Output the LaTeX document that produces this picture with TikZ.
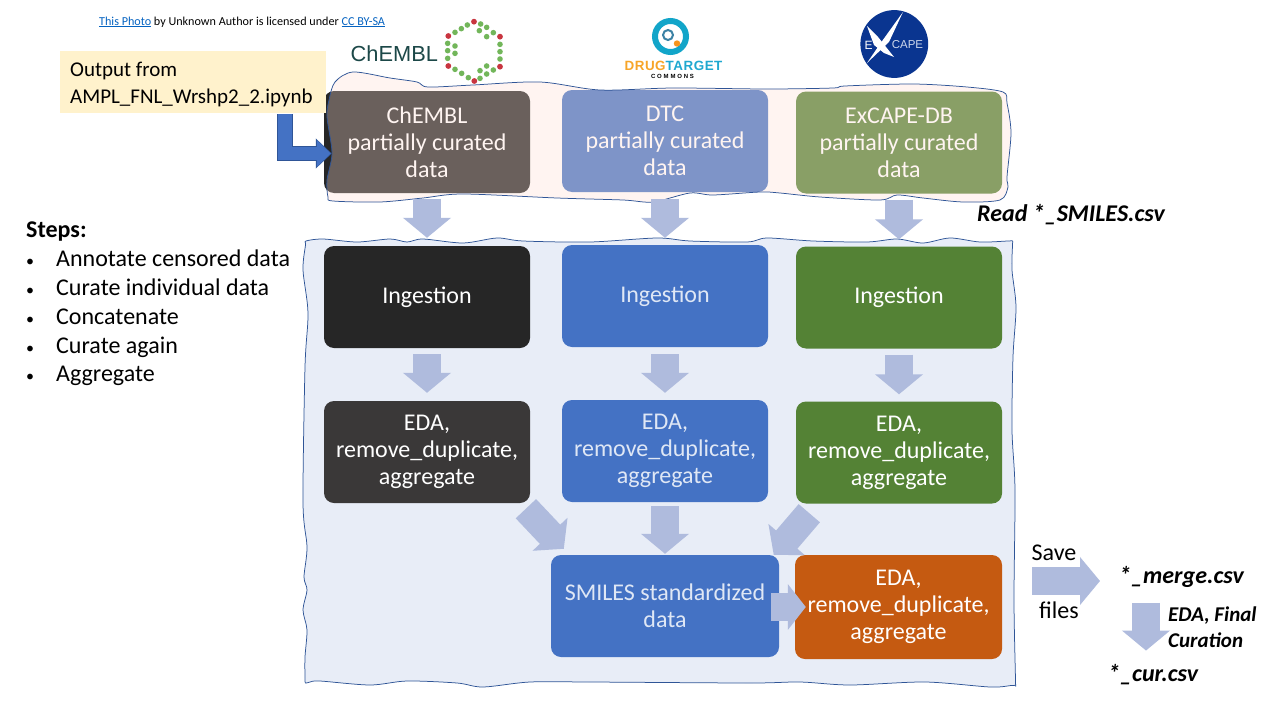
\documentclass[tikz,border=0pt]{standalone}
\usepackage{fontspec}
\setmainfont{Carlito}
\newfontfamily\logofont{Liberation Sans}
\newfontfamily\dtcfont[LetterSpace=4]{Liberation Sans}
\newfontfamily\dtcsmall[LetterSpace=30]{Liberation Sans}
\usetikzlibrary{arrows.meta}
\definecolor{arrowfill}{HTML}{AFBBDD}
\definecolor{blueA}{HTML}{4472C4}
\definecolor{blueB}{HTML}{2F5597}
\definecolor{lightregion}{HTML}{E8EDF7}
\definecolor{peach}{HTML}{FFDFD3}
\definecolor{softtext}{HTML}{DFE7F5}
\definecolor{linkblue}{HTML}{0563C1}
\definecolor{chemblred}{HTML}{C8353F}
\definecolor{chemblgreen}{HTML}{72B65A}
\definecolor{darkbox}{HTML}{262626}
\definecolor{darkboxB}{HTML}{3A3838}
\definecolor{greenbox}{HTML}{548235}
\definecolor{orangebox}{HTML}{C55A11}
\definecolor{notefill}{HTML}{FFF2CC}
\definecolor{chembltext}{HTML}{1C4848}
\definecolor{dtcring}{HTML}{12A5C9}
\definecolor{dtcinner}{HTML}{3C82A5}
\definecolor{dtcorange}{HTML}{F7941D}
\definecolor{dtctext}{HTML}{1FA8D0}
\definecolor{dtcdrug}{HTML}{F7A528}
\definecolor{exblue}{HTML}{0A3590}
\definecolor{exsoft}{HTML}{CDD7EB}
\newcommand{\stepdot}{\makebox[30pt][l]{\fontsize{16}{16}\selectfont •}}
\def\lowerpts{(306,241)(323,239)(357,242)(390,239)(407,242)(423,239)(463,243)(497,238)(523,241)(590,242)(657,238)(690,241)(747,242)(767,238)(813,241)(867,242)(897,239)(923,243)(950,238)(980,242)(1008,241)(1012.5,241)(1012.5,245)(1012,270)(1016,307)(1013,357)(1012,430)(1015,490)(1014,600)(1015.5,680)(1015.5,685)(1011,685.5)(990,687)(925,682)(850,685)(800,682)(750,683)(590,682)(530,682)(483,687)(457,683)(407,681)(370,685)(320,681)(310,682)(305.5,683)(305,678)(305,657)(307,630)(303,610)(307,590)(304,577)(307,547)(303,503)(305,367)(308,313)(303,270)(305.5,245)}
\def\upperpts{(329,100)(335,82)(353,72)(390,78)(417,82)(428,87)(473,85)(540,82)(600,90)(673,88)(767,89)(833,88)(845,86)(913,84)(967,87)(1003,92)(1007,103)(1011,133)(1007,177)(1008,187)(1000,200)(963,202)(923,198)(897,195)(880,200)(820,197)(780,193)(760,192)(713,195)(690,193)(653,202)(623,200)(557,198)(463,194)(423,198)(380,202)(333,201)(328,197)(327,180)(332,153)(327,117)}
\tikzset{
  box/.style={rounded corners=10pt,minimum width=206pt,minimum height=102pt,inner sep=0pt,
    align=center,text=white,font=\fontsize{24}{27}\selectfont},
  softbox/.style={box,text=softtext},
  blockarrow/.style={draw=arrowfill,line width=28pt,
    -{Triangle[width=47pt,length=20pt,fill=arrowfill]}},
  wobble/.style={draw=blueB,line width=0.75pt},
  plain/.style={inner sep=0pt,font=\fontsize{24}{27}\selectfont,align=left},
  notetext/.style={inner sep=0pt,font=\fontsize{21}{27}\selectfont,align=left},
  bolditalic/.style={inner sep=0pt,font=\fontsize{24}{27}\selectfont\bfseries\itshape,align=left},
  reddot/.style={fill=chemblred},
  greendot/.style={fill=chemblgreen},
}
\begin{document}
\begin{tikzpicture}[x=1pt,y=-1pt]
\useasboundingbox (0,0) rectangle (1280,720);
\fill[white] (0,0) rectangle (1280,720);
% lower region
\fill[lightregion] plot[smooth cycle,tension=0.5] coordinates {\lowerpts};
\draw[wobble] plot[smooth cycle,tension=0.5] coordinates {\lowerpts};
% top row boxes (under the translucent sheet)
\node[box,fill=darkbox] (cpart) at (427,142) {ChEMBL\\partially curated\\data};
\node[box,fill=blueA] (dpart) at (665,141) {DTC\\partially curated\\data};
\node[box,fill=greenbox] (epart) at (899,142.5) {ExCAPE-DB\\partially curated\\data};
\fill[peach,fill opacity=0.313] plot[smooth cycle,tension=0.5] coordinates {\upperpts};
\draw[wobble] plot[smooth cycle,tension=0.5] coordinates {\upperpts};
% process boxes
\node[box,fill=darkbox] (cing) at (427,297) {Ingestion};
\node[softbox,fill=blueA] (ding) at (665,296) {Ingestion};
\node[box,fill=greenbox] (eing) at (899,297.5) {Ingestion};
\node[box,fill=darkboxB] (ceda) at (427,452) {EDA,\\remove\_duplicate,\\aggregate};
\node[softbox,fill=blueA] (deda) at (665,451) {EDA,\\remove\_duplicate,\\aggregate};
\node[box,fill=greenbox] (eeda) at (899,452.5) {EDA,\\remove\_duplicate,\\aggregate};
\node[softbox,fill=blueA,minimum width=228pt] (smiles) at (665,606) {SMILES standardized\\data};
\node[box,fill=orangebox,minimum width=207pt,minimum height=104pt] (oeda) at (898.5,607) {EDA,\\remove\_duplicate,\\aggregate};
% block arrows
\draw[blockarrow] ([shift={(0,6)}]cpart.south) -- ([shift={(0,-8)}]cing.north);
\draw[blockarrow] ([shift={(0,7)}]dpart.south) -- ([shift={(0,-7)}]ding.north);
\draw[blockarrow] ([shift={(0,6)}]epart.south) -- ([shift={(0,-7)}]eing.north);
\draw[blockarrow] ([shift={(0,6)}]cing.south) -- ([shift={(0,-8)}]ceda.north);
\draw[blockarrow] ([shift={(0,7)}]ding.south) -- ([shift={(0,-7)}]deda.north);
\draw[blockarrow] ([shift={(0,6)}]eing.south) -- ([shift={(0,-7)}]eeda.north);
\draw[blockarrow] ([shift={(-4.3,5.5)}]ceda.south east) -- ([shift={(13,-6)}]smiles.north west);
\draw[blockarrow] ([shift={(0,4)}]deda.south) -- ([shift={(0,-1)}]smiles.north);
\draw[blockarrow] ([shift={(13.5,9.5)}]eeda.south west) -- ([shift={(-5.5,0)}]smiles.north east);
\draw[blockarrow,-{Triangle[width=45pt,length=18pt,fill=arrowfill]}] ([shift={(-8,1)}]smiles.east) -- ([shift={(11,0)}]oeda.west);
% output text and its arrow
\node[fill=notefill,minimum width=266pt,minimum height=62pt,inner sep=0pt] (output) at (193,82) {};
\node[notetext,anchor=west] (outtxt) at (70,84.5) {Output from\\AMPL\_FNL\_Wrshp2\_2.ipynb};
\draw[blueB,line width=15.5pt,-{Triangle[width=29pt,length=16pt,fill=blueB]}] ([shift={(92,1)}]output.south) |- ([shift={(8,11.5)}]cpart.west);
\draw[blueA,line width=13.5pt,-{Triangle[width=26pt,length=14pt,fill=blueA]}] ([shift={(92,1)}]output.south) |- ([shift={(7,11.5)}]cpart.west);
% steps
\node[plain,anchor=north west] (steps) at (26,221.5) {\textbf{Steps:}\\[1.9pt]
\stepdot Annotate censored data\\[1.9pt]
\stepdot Curate individual data\\[1.9pt]
\stepdot Concatenate\\[1.9pt]
\stepdot Curate again\\[1.9pt]
\stepdot Aggregate};
% right-hand labels
\node[bolditalic,anchor=west] (read) at (977,215) {Read *\_SMILES.csv};
\node[plain,anchor=center] (save) at (1054,553) {Save};
\node[plain,anchor=center] (files) at (1059,610) {files};
\node[bolditalic,anchor=west] (merge) at (1119,577) {*\_merge.csv};
\node[bolditalic,anchor=west] (cur) at (1108,675) {*\_cur.csv};
\node[inner sep=0pt,font=\fontsize{21}{26}\selectfont\bfseries\itshape,align=left,anchor=west] (final) at (1168,627) {EDA, Final\\Curation};
\coordinate (savestart) at (1032,581);
\draw[blockarrow] (savestart) -- ([shift={(-19,4)}]merge.west);
\draw[blockarrow] ([shift={(27,15)}]merge.south west) -- ([shift={(38,-14)}]cur.north west);
% credit line
\node[inner sep=0pt,anchor=west,font=\fontsize{12.15}{14}\selectfont] (credit) at (99,22) {\textcolor{linkblue}{\underline{This Photo}} by Unknown Author is licensed under \textcolor{linkblue}{\underline{CC BY-SA}}};
% ChEMBL logo
\node[inner sep=0pt,anchor=west,text=chembltext,font=\logofont\fontsize{21.8}{24}\selectfont] (cblogo) at (350.5,53.5) {ChEMBL};
\foreach \x/\y in {402/35,480/80,480/170,403/213,325/168,325/78}
  \fill[reddot] ({340+\x/3},{10+\y/3}) circle (2.9pt);
\foreach \x/\y in {345/67,364/56,382/45,422/42,440/52,460/68,418/62,440/80,480/103,480/125,480/147,460/180,440/192,420/205,420/182,440/168,345/178,365/190,385/203,323/100,345/108,323/122,323/145,345/130}
  \fill[greendot] ({340+\x/3},{10+\y/3}) circle (2.8pt);
% Drug Target Commons logo
\draw[line width=6pt,draw=dtcring] (670.5,36.5) circle (15.5pt);
\draw[line width=2pt,draw=dtcinner] (668,35) circle (5pt);
\fill[dtcorange] (677,43.5) circle (3.2pt);
\node[inner sep=0pt,font=\dtcfont\bfseries\fontsize{13.4}{15}\selectfont] (dtclogo) at (673.5,66) {\textcolor{dtcdrug}{DRUG}\textcolor{dtctext}{TARGET}};
\node[inner sep=0pt,font=\dtcsmall\bfseries\fontsize{6}{7}\selectfont] (dtcsub) at (672.5,76) {COMMONS};
% ExCAPE logo
\fill[exblue] (894.3,44) circle (33.9pt);
\fill[white] (903,12) -- (889,42) -- (867,63) -- (880,44) -- cycle;
\fill[white] (867,26) -- (878,37) -- (894,57) -- (884,53) -- (874,45) -- cycle;
\node[inner sep=0pt,text=white,font=\logofont\fontsize{12}{13}\selectfont] (exE) at (868.5,45) {E};
\node[inner sep=0pt,text=exsoft,font=\logofont\fontsize{11.5}{13}\selectfont] (exC) at (907.5,45) {CAPE};
\end{tikzpicture}
\end{document}
